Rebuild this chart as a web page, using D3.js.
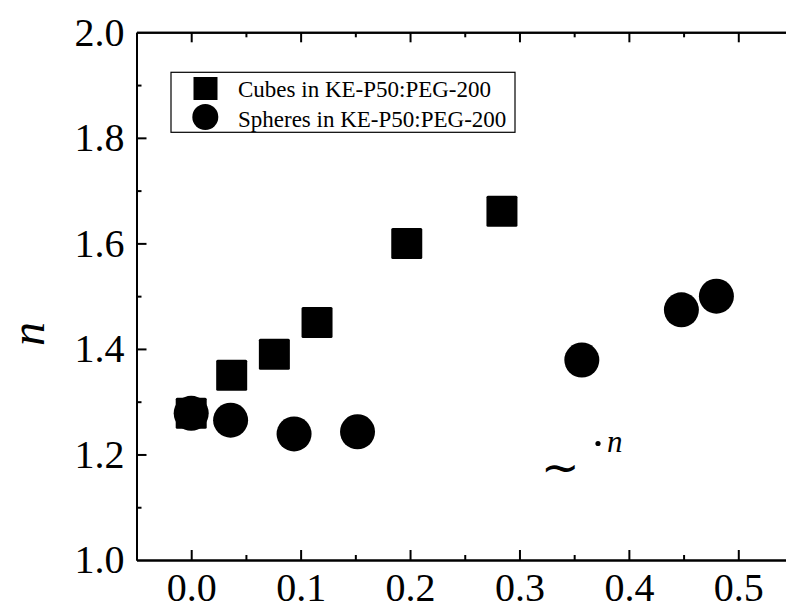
<!DOCTYPE html>
<html>
<head>
<meta charset="utf-8">
<script src="https://cdn.jsdelivr.net/npm/d3@7"></script>
<style>
  html, body { margin: 0; padding: 0; background: #fff; }
  svg { display: block; overflow: hidden; }
  text { font-family: "Liberation Serif", "Times New Roman", serif; fill: #000; }
</style>
</head>
<body>
<svg id="chart" width="786" height="611"></svg>
<script>
// Refractive-index exponent n versus concentration for two particle shapes
const cubeX   = [0.000, 0.037, 0.076, 0.115, 0.197, 0.284];
const cubeY   = [1.278, 1.350, 1.390, 1.450, 1.600, 1.661];
const sphereX = [0.000, 0.036, 0.094, 0.152, 0.357, 0.448, 0.480];
const sphereY = [1.278, 1.265, 1.239, 1.243, 1.379, 1.474, 1.500];

const xMajor = [0.0, 0.1, 0.2, 0.3, 0.4, 0.5];
const xMinor = [0.05, 0.15, 0.25, 0.35, 0.45];
const yMajor = [1.0, 1.2, 1.4, 1.6, 1.8, 2.0];
const yMinor = [1.1, 1.3, 1.5, 1.7, 1.9];

const seriesNames = ["Cubes in KE-P50:PEG-200", "Spheres in KE-P50:PEG-200"];

const svg = d3.select("#chart");
const plotLeft = 136.5, plotTop = 32.3, plotBottom = 560, plotRight = 793;

const x = d3.scaleLinear().domain([-0.05, 0.55]).range([plotLeft, plotRight]);
const y = d3.scaleLinear().domain([1.0, 2.0]).range([plotBottom, plotTop]);

const fmt = d3.format(".1f");

function styleAxis(g) {
  g.selectAll("path.domain").attr("stroke", "#000").attr("stroke-width", 2);
  g.selectAll(".tick line").attr("stroke", "#000").attr("stroke-width", 2);
  g.attr("font-family", null).attr("font-size", null);
}

// minor ticks first, then major ticks with labels
svg.append("g").attr("transform", `translate(0,${plotBottom})`)
  .call(d3.axisBottom(x).tickValues(xMinor).tickSize(-5).tickFormat("").tickSizeOuter(0))
  .call(styleAxis);
const gx = svg.append("g").attr("transform", `translate(0,${plotBottom})`)
  .call(d3.axisBottom(x).tickValues(xMajor).tickSize(-10).tickPadding(13).tickFormat(fmt).tickSizeOuter(0))
  .call(styleAxis);
gx.selectAll(".tick text").style("font-size", "40px");

svg.append("g").attr("transform", `translate(0,${plotTop})`)
  .call(d3.axisTop(x).tickValues(xMinor).tickSize(-5).tickFormat("").tickSizeOuter(0))
  .call(styleAxis);
svg.append("g").attr("transform", `translate(0,${plotTop})`)
  .call(d3.axisTop(x).tickValues(xMajor).tickSize(-10).tickFormat("").tickSizeOuter(0))
  .call(styleAxis);

svg.append("g").attr("transform", `translate(${plotLeft},0)`)
  .call(d3.axisLeft(y).tickValues(yMinor).tickSize(-5).tickFormat("").tickSizeOuter(0))
  .call(styleAxis);
const gy = svg.append("g").attr("transform", `translate(${plotLeft},0)`)
  .call(d3.axisLeft(y).tickValues(yMajor).tickSize(-10).tickPadding(12).tickFormat(fmt).tickSizeOuter(0))
  .call(styleAxis);
gy.selectAll(".tick text").style("font-size", "40px");
// the corner ticks coincide with the frame lines
gy.selectAll(".tick").filter(d => d === 1.0 || d === 2.0).select("line").remove();

// y-axis title
svg.append("text")
  .attr("transform", `translate(44,334) rotate(-90)`)
  .attr("text-anchor", "middle")
  .style("font-size", "48px")
  .style("font-style", "italic")
  .text("n");

// data marks
const sq = 31, r = 17.5;
svg.append("g").selectAll("rect").data(cubeX.map((v, i) => [v, cubeY[i]]))
  .join("rect")
  .attr("x", d => x(d[0]) - sq / 2)
  .attr("y", d => y(d[1]) - sq / 2)
  .attr("width", sq).attr("height", sq)
  .attr("rx", 1.5)
  .attr("fill", "#000");

svg.append("g").selectAll("circle").data(sphereX.map((v, i) => [v, sphereY[i]]))
  .join("circle")
  .attr("cx", d => x(d[0]))
  .attr("cy", d => y(d[1]))
  .attr("r", r)
  .attr("fill", "#000");

// legend
const lg = svg.append("g");
lg.append("rect")
  .attr("x", 171).attr("y", 72.3).attr("width", 344).attr("height", 60)
  .attr("fill", "none").attr("stroke", "#000").attr("stroke-width", 1.2);
lg.append("rect").attr("x", 193.5).attr("y", 77).attr("width", 24).attr("height", 23).attr("fill", "#000");
lg.append("circle").attr("cx", 205.3).attr("cy", 117).attr("r", 13).attr("fill", "#000");
lg.selectAll("text.lab").data(seriesNames).join("text")
  .attr("class", "lab")
  .attr("x", 238)
  .attr("y", (d, i) => 97.3 + i * 29.2)
  .style("font-size", "23px")
  .text(d => d);

// stray annotation
svg.append("text")
  .attr("x", 541).attr("y", 483)
  .style("font-size", "46px")
  .text("\u223C");
svg.append("circle").attr("cx", 598).attr("cy", 443.5).attr("r", 2.6).attr("fill", "#000");
svg.append("text")
  .attr("x", 607).attr("y", 452)
  .style("font-size", "31px")
  .style("font-style", "italic")
  .text("n");
</script>
</body>
</html>
